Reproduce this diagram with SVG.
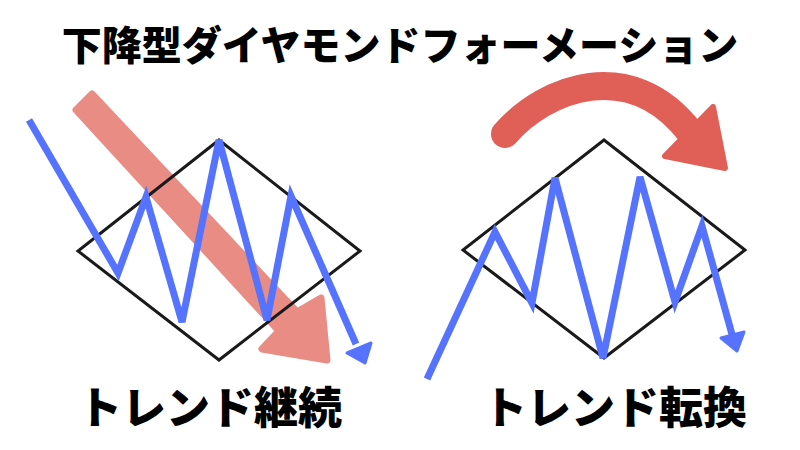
<svg xmlns="http://www.w3.org/2000/svg" width="800" height="450" viewBox="0 0 800 450">
<style>
.t{font-family:"Noto Sans CJK JP","Noto Sans CJK SC",sans-serif;font-weight:900;fill:#000;text-anchor:middle}
.dia{fill:none;stroke:#1a1a1a;stroke-width:3}
.blue{fill:none;stroke:#5573FF;stroke-width:7;stroke-linejoin:miter;stroke-linecap:butt}
.bhead{fill:#5573FF;stroke:#5573FF;stroke-width:3;stroke-linejoin:round}
</style>
<rect width="800" height="450" fill="#fff"/>
<text class="t" x="400" y="60" font-size="40">下降型ダイヤモンドフォーメーション</text>

<g id="left">
  <g id="left-trend-arrow">
    <path d="M 92 94 L 76 110 L 279 331 L 262 349 L 327 360 L 321 298 L 297 312 Z" fill="#E88C84" stroke="#E88C84" stroke-width="7" stroke-linejoin="round"/>
  </g>
  <polygon class="dia" points="219,140 360,251 219,360 78,251"/>
  <polyline class="blue" points="29,120 118,273 146,197 182,322 219,140 267,320 291,196 356,344"/>
  <polygon class="bhead" points="365,363 347,353 371,343"/>
</g>

<g id="right">
  <polygon class="dia" points="604,140 745,250 604,358 463,250"/>
  <g id="right-turn-arrow">
    <path d="M 505 134 C 545 88, 630 55, 690 132" fill="none" stroke="#E05F57" stroke-width="28" stroke-linecap="round"/>
    <polygon points="713,107 665,156 725,168" fill="#E05F57" stroke="#E05F57" stroke-width="6" stroke-linejoin="round"/>
  </g>
  <polyline class="blue" points="427,379 495,232 532,303 555,178 603,358 640,177 675,302 702,226 733,338"/>
  <polygon class="bhead" points="737,351 721,338 744,332"/>
</g>

<text class="t" x="210" y="424" font-size="44">トレンド継続</text>
<text class="t" x="615" y="424" font-size="44">トレンド転換</text>
</svg>
